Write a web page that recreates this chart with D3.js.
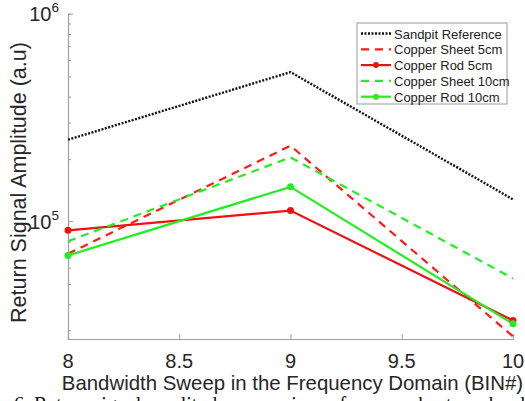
<!DOCTYPE html>
<html>
<head>
<meta charset="utf-8">
<script src="https://cdn.jsdelivr.net/npm/d3@7"></script>
<style>
body { margin: 0; background: #fff; }
text { font-family: "Liberation Sans", Arial, sans-serif; }
</style>
</head>
<body>
<script>
// bins on the x axis
var bins = [8, 9, 10];

// series values
var sandpit = [2.48e5, 5.25e5, 1.28e5];
var sheet5 = [7.0e4, 2.32e5, 2.8e4];
var rod5 = [9.08e4, 1.13e5, 3.34e4];
var sheet10 = [8.04e4, 2.04e5, 5.32e4];
var rod10 = [6.87e4, 1.47e5, 3.22e4];

var seriesNames = ["Sandpit Reference", "Copper Sheet 5cm", " Copper Rod 5cm", "Copper Sheet 10cm", "Copper Rod 10cm"];
var xTicks = [8, 8.5, 9, 9.5, 10];

var W = 525, H = 401;
var mLeft = 68, mRight = 513, mTop = 14, mBottom = 339;

var svg = d3.select("body").append("svg")
	.attr("width", W)
	.attr("height", H);

var x = d3.scaleLinear().domain([8, 10]).range([mLeft, mRight]);
var y = d3.scaleLog().domain([2.72e4, 1e6]).range([mBottom, mTop]);

var axisColor = "#a0a0a0";

// minor ticks on the log axis
var minor = [];
[1e4, 1e5].forEach(function(d){
	for(var k = 2; k <= 9; k++){
		var v = d * k;
		if(v >= y.domain()[0] && v < 1e6) minor.push(v);
	}
});

var yAxis = d3.axisLeft(y)
	.tickValues(minor)
	.tickSize(-3)
	.tickFormat("");
var yg = svg.append("g").attr("transform", "translate(" + mLeft + ",0)").call(yAxis);
yg.select(".domain").attr("stroke", axisColor).attr("stroke-width", 1.2);
yg.selectAll(".tick line").attr("stroke", axisColor);

// major ticks
svg.selectAll("line.major").data([1e5, 1e6]).enter().append("line")
	.attr("class", "major")
	.attr("x1", mLeft).attr("x2", mLeft + 5)
	.attr("y1", function(d){ return y(d); })
	.attr("y2", function(d){ return y(d); })
	.attr("stroke", axisColor);

var xAxis = d3.axisBottom(x)
	.tickValues(xTicks)
	.tickSize(-5)
	.tickFormat("");
var xg = svg.append("g").attr("transform", "translate(0," + mBottom + ")").call(xAxis);
xg.select(".domain").attr("stroke", axisColor).attr("stroke-width", 1.2);
xg.selectAll(".tick line").attr("stroke", axisColor);

// x tick labels
svg.selectAll("text.xt").data(xTicks).enter().append("text")
	.attr("class", "xt")
	.attr("x", function(d){ return x(d); })
	.attr("y", 368)
	.attr("text-anchor", "middle")
	.attr("font-size", 20)
	.attr("fill", "#262626")
	.text(function(d){ return d; });

// y tick labels 10^5 and 10^6
[5, 6].forEach(function(p){
	var t = svg.append("text")
		.attr("x", 59)
		.attr("y", y(Math.pow(10, p)) + 7)
		.attr("text-anchor", "end")
		.attr("font-size", 20)
		.attr("fill", "#262626");
	t.append("tspan").text("10");
	t.append("tspan").attr("dy", -9).attr("font-size", 13.5).text(p);
});

// axis titles
svg.append("text")
	.attr("x", (mLeft + mRight) / 2 + 2)
	.attr("y", 390)
	.attr("text-anchor", "middle")
	.attr("font-size", 20.4)
	.attr("fill", "#262626")
	.text("Bandwidth Sweep in the Frequency Domain (BIN#)");

svg.append("text")
	.attr("transform", "translate(26," + ((mTop + mBottom) / 2 + 6) + ") rotate(-90)")
	.attr("text-anchor", "middle")
	.attr("font-size", 21.5)
	.attr("fill", "#262626")
	.text("Return Signal Amplitude (a.u)");

// caption, cut off at the bottom edge
svg.append("text")
	.attr("x", 14)
	.attr("y", 411)
	.style("font-family", "'Liberation Serif', 'Times New Roman', serif")
	.attr("font-size", 20)
	.attr("fill", "#111")
	.text("6. Return signal amplitude comparison of copper sheets and rods");

// series
var series = [
	{name: seriesNames[0], vals: sandpit, color: "#111111", dash: "2,1.5", width: 2.4, marker: false},
	{name: seriesNames[1], vals: sheet5, color: "#ff1a1a", dash: "8,6", width: 2.2, marker: false},
	{name: seriesNames[2], vals: rod5, color: "#ee1111", dash: null, width: 2.2, marker: true},
	{name: seriesNames[3], vals: sheet10, color: "#22ee22", dash: "8,6", width: 2.2, marker: false},
	{name: seriesNames[4], vals: rod10, color: "#22ee22", dash: null, width: 2.2, marker: true}
];

var line = d3.line()
	.x(function(d, i){ return x(bins[i]); })
	.y(function(d){ return y(d); });

svg.append("clipPath").attr("id", "clip")
	.append("rect").attr("x", mLeft).attr("y", mTop).attr("width", mRight - mLeft + 6).attr("height", mBottom - mTop);

var plot = svg.append("g").attr("clip-path", "url(#clip)");

series.forEach(function(s){
	plot.append("path")
		.attr("d", line(s.vals))
		.attr("fill", "none")
		.attr("stroke", s.color)
		.attr("stroke-width", s.width)
		.attr("stroke-dasharray", s.dash);
	if(s.marker){
		svg.selectAll(null).data(s.vals).enter().append("circle")
			.attr("cx", function(d, i){ return x(bins[i]); })
			.attr("cy", function(d){ return y(d); })
			.attr("r", 3.5)
			.attr("fill", s.color);
	}
});

// legend
var lg = svg.append("g").attr("transform", "translate(357,23)");
lg.append("rect")
	.attr("width", 150)
	.attr("height", 81)
	.attr("fill", "#fff")
	.attr("stroke", "#999")
	.attr("stroke-width", 1);

series.forEach(function(s, i){
	var yy = 10.5 + i * 15.8;
	lg.append("line")
		.attr("x1", 4).attr("x2", 34)
		.attr("y1", yy).attr("y2", yy)
		.attr("stroke", s.color)
		.attr("stroke-width", s.width)
		.attr("stroke-dasharray", s.dash);
	if(s.marker){
		lg.append("circle").attr("cx", 19).attr("cy", yy).attr("r", 3).attr("fill", s.color);
	}
	lg.append("text")
		.attr("x", 37)
		.attr("y", yy + 5)
		.attr("font-size", 13)
		.attr("fill", "#222")
		.text(s.name);
});
</script>
</body>
</html>
